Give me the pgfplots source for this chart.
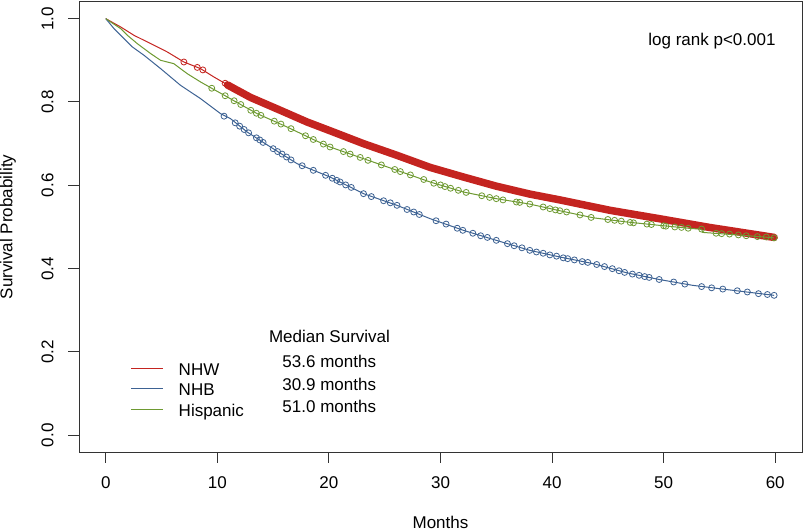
\documentclass[border=0pt]{standalone}
\usepackage{fontspec}
\setmainfont{Liberation Sans}
\usepackage{pgfplots}
\pgfplotsset{compat=1.18}

\definecolor{kmred}{HTML}{C42420}
\definecolor{kmblue}{HTML}{3D6293}
\definecolor{kmgreen}{HTML}{6E9A32}

\begin{document}
\fontsize{17}{20}\selectfont
\begin{tikzpicture}[x=1pt,y=1pt]
\path[use as bounding box] (0,0) rectangle (805,532);
\begin{axis}[
  at={(79pt,80pt)}, anchor=south west,
  scale only axis, width=723pt, height=450pt,
  xmin=-2.4, xmax=62.4, ymin=-0.04, ymax=1.04,
  xtick={0,10,20,30,40,50,60},
  ytick={0,0.2,0.4,0.6,0.8,1},
  xtick pos=bottom, ytick pos=left,
  tick align=outside, major tick length=10.5pt,
  axis line style={black!80, line width=1pt},
  every tick/.append style={black!80, line width=1pt},
  /pgf/number format/assume math mode=true,
  xticklabel style={anchor=base},
  xticklabel shift=26pt,
  yticklabel style={rotate=90, anchor=base,
    /pgf/number format/fixed, /pgf/number format/fixed zerofill,
    /pgf/number format/precision=1},
  yticklabel shift=15pt,
  xlabel={Months}, ylabel={Survival Probability},
  xlabel style={at={(axis description cs:0.5,-0.1689)}, anchor=base},
  ylabel style={at={(axis description cs:-0.0923,0.5)}, anchor=base},
  legend style={draw=none, fill=none, inner sep=0pt,
    at={(axis cs:2.236,0.1729)}, anchor=north west,
    row sep=5pt, column sep=15pt,
    nodes={inner sep=0pt, text height=12pt, text depth=3.5pt}},
  legend cell align=left,
  legend image code/.code={\draw[#1, line width=0.8pt] (0pt,3pt) -- (32pt,3pt);},
]

% NHW
\addplot[kmred, line width=1pt] coordinates {
(0,1.0) (1.34,0.980) (2.53,0.960) (4.03,0.940) (5.52,0.920) (7.0,0.896)
(8.5,0.880) (9.69,0.860) (10.73,0.844)
(12.97,0.811) (15.65,0.780) (18.04,0.752) (20.1,0.731) (23.1,0.700)
(26.1,0.672) (29.07,0.643) (32.05,0.620) (35.0,0.598) (38.0,0.579)
(40.7,0.565) (45.2,0.540) (49.6,0.520) (54.1,0.499) (59.9,0.475)};
\addlegendentry{NHW}
% dense censoring band
\addplot[kmred, line width=7.5pt, line cap=round, forget plot] coordinates {
(10.9,0.841) (12.97,0.811) (15.65,0.780) (18.04,0.752) (20.1,0.731) (23.1,0.700)
(26.1,0.672) (29.07,0.643) (32.05,0.620) (35.0,0.598) (38.0,0.579)
(40.7,0.565) (45.2,0.540) (49.6,0.520) (54.1,0.499) (59.9,0.475)};
\addplot[only marks, mark=o, mark size=3pt, kmred, line width=0.8pt, forget plot] coordinates {
(7.0,0.896) (8.2,0.883) (8.7,0.877) (10.7,0.845) (11.1,0.839)};

% NHB
\addplot[kmblue, line width=1pt] coordinates {
(0,1.0) (0.74,0.976) (1.64,0.952) (2.39,0.932) (3.43,0.912) (4.92,0.880)
(6.7,0.840) (8.5,0.808) (10.29,0.772) (11.18,0.760)
(12.67,0.728) (14.76,0.692) (17.15,0.652) (20.1,0.620)
(23.1,0.580) (26.1,0.552) (29.07,0.520) (32.05,0.492) (35.0,0.468)
(38.0,0.444) (40.7,0.428) (43.7,0.412) (46.7,0.390) (49.6,0.374)
(52.6,0.360) (55.6,0.350) (59.9,0.336)};
\addlegendentry{NHB}
\addplot[only marks, mark=o, mark size=3pt, kmblue, line width=0.8pt, forget plot] coordinates {
(10.6,0.766) (11.6,0.750) (12.0,0.742) (12.4,0.734) (12.8,0.726) (13.5,0.714)
(13.8,0.709) (14.1,0.703) (15.0,0.688) (15.4,0.681) (15.8,0.675) (16.2,0.668)
(16.6,0.661) (17.6,0.647) (18.6,0.636) (19.7,0.624) (20.3,0.617) (20.7,0.612)
(21.0,0.608) (21.5,0.601) (22.0,0.595) (23.1,0.580) (23.8,0.573) (24.9,0.563)
(25.5,0.558) (26.1,0.552) (27.0,0.542) (27.6,0.536) (28.1,0.530) (29.6,0.515)
(30.5,0.507) (31.5,0.497) (32.0,0.492) (32.9,0.485) (33.6,0.479) (34.2,0.475)
(35.0,0.468) (36.0,0.460) (36.6,0.455) (37.3,0.450) (38.0,0.444) (38.6,0.440)
(39.2,0.437) (39.8,0.433) (40.4,0.430) (41.0,0.426) (41.4,0.424) (42.0,0.421)
(42.7,0.417) (43.2,0.415) (44.0,0.410) (44.7,0.405) (45.4,0.400) (46.0,0.395)
(46.5,0.391) (47.2,0.387) (47.8,0.384) (48.3,0.381) (48.7,0.379) (49.6,0.374)
(50.9,0.368) (51.9,0.363) (53.4,0.357) (54.3,0.354) (55.3,0.351) (56.6,0.347)
(57.5,0.344) (58.5,0.340) (59.3,0.338) (59.9,0.336)};

% Hispanic
\addplot[kmgreen, line width=1pt] coordinates {
(0,1.0) (1.34,0.976) (1.94,0.960) (2.83,0.940) (4.03,0.916) (4.92,0.900)
(6.1,0.892) (7.3,0.868) (8.5,0.848) (9.69,0.830) (10.9,0.812)
(11.48,0.803) (13.57,0.772) (16.25,0.740) (18.6,0.710) (20.1,0.692)
(23.1,0.664) (26.1,0.636) (29.07,0.608) (32.05,0.584) (35.0,0.568)
(38.0,0.555) (40.7,0.539) (43.7,0.522) (46.7,0.512) (49.6,0.504)
(52.6,0.496) (53.4,0.495) (53.5,0.487) (57.1,0.480) (59.9,0.474)};
\addlegendentry{Hispanic}
\addplot[only marks, mark=o, mark size=3pt, kmgreen, line width=0.8pt, forget plot] coordinates {
(9.5,0.833) (10.7,0.815) (11.5,0.803) (12.1,0.794) (13.0,0.780) (13.5,0.773)
(13.9,0.768) (15.1,0.754) (15.7,0.747) (16.6,0.736) (17.9,0.719) (18.6,0.710)
(19.5,0.699) (20.1,0.692) (21.3,0.681) (21.9,0.675) (22.8,0.667) (23.5,0.660)
(24.7,0.649) (25.9,0.638) (26.4,0.633) (27.3,0.625) (28.5,0.614) (29.4,0.605)
(30.0,0.601) (30.4,0.597) (30.9,0.593) (31.6,0.588) (32.3,0.583) (33.7,0.575)
(34.4,0.571) (35.0,0.568) (35.6,0.565) (36.8,0.560) (37.1,0.559) (38.0,0.555)
(39.2,0.548) (39.8,0.544) (40.3,0.541) (40.7,0.539) (41.3,0.536) (42.5,0.529)
(43.5,0.523) (45.0,0.518) (45.6,0.516) (46.2,0.514) (47.0,0.511) (47.3,0.510)
(48.5,0.507) (48.9,0.506) (50.0,0.503) (50.2,0.502) (51.0,0.500) (51.6,0.499)
(52.2,0.497) (53.4,0.495) (54.7,0.485) (55.2,0.484) (55.9,0.483) (56.7,0.481)
(57.4,0.479) (58.4,0.477) (59.2,0.476) (59.9,0.474)};

\node[anchor=base east] at (axis cs:60.55,0.9364) {log rank p<0.001};
\node[anchor=base] at (axis cs:20.05,0.2221) {Median Survival};
\node[anchor=base] at (axis cs:20.03,0.1625) {53.6 months};
\node[anchor=base] at (axis cs:20.03,0.1080) {30.9 months};
\node[anchor=base] at (axis cs:20.03,0.0540) {51.0 months};
\end{axis}
\end{tikzpicture}
\end{document}
